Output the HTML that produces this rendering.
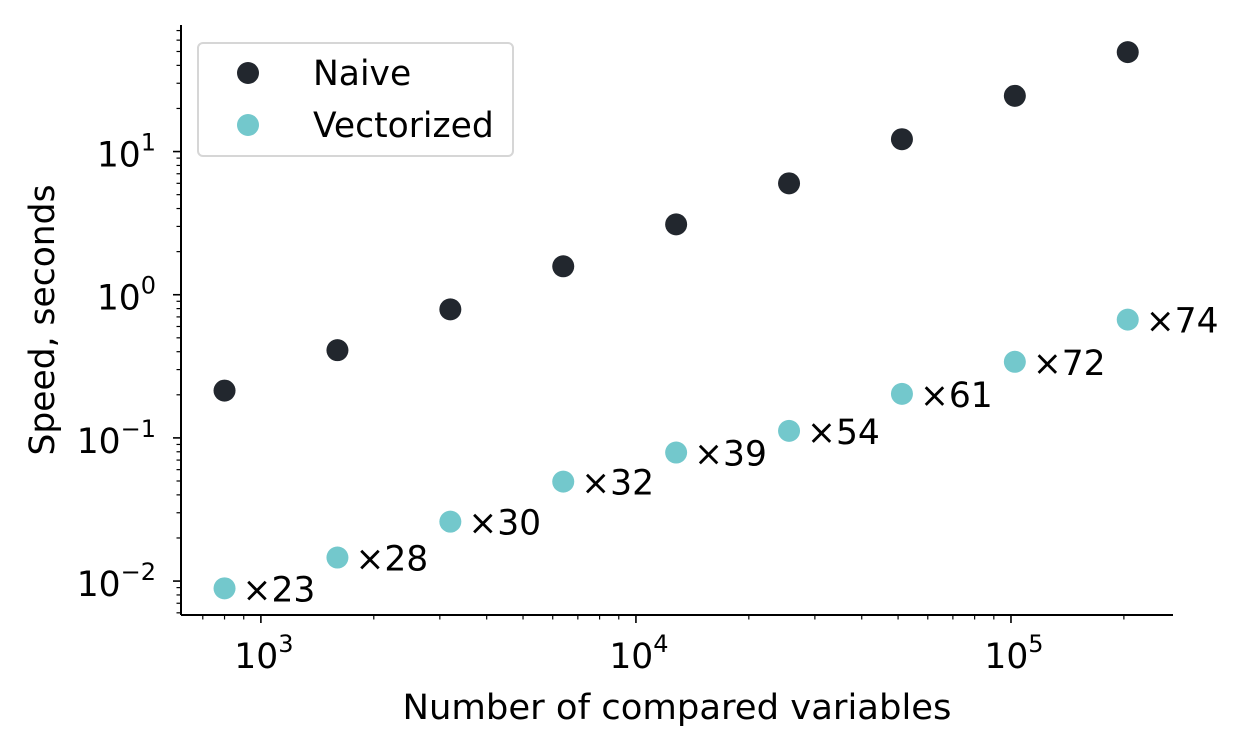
<!DOCTYPE html>
<html><head><meta charset="utf-8"><style>
html,body{margin:0;padding:0;background:#fff;}
svg{display:block;font-family:"DejaVu Sans","Liberation Sans",sans-serif;}
</style></head><body>
<svg id="chart" width="1243" height="751" viewBox="0 0 1243 751" xmlns="http://www.w3.org/2000/svg">
<g id="axes"></g>
<g id="marks"></g>
<text x="677" y="719" font-size="34.5" text-anchor="middle" textLength="549" lengthAdjust="spacingAndGlyphs">Number of compared variables</text>
<text transform="translate(54,320) rotate(-90)" font-size="34.5" text-anchor="middle">Speed, seconds</text>
<g>
<rect x="198" y="43" width="315" height="113" rx="5" fill="#fff" stroke="#d6d6d6" stroke-width="2"/>
<circle cx="248" cy="73" r="11" fill="#22272e"/>
<text x="313" y="85" font-size="34.5">Naive</text>
<circle cx="248" cy="125" r="11" fill="#73c8cc"/>
<text x="313" y="137" font-size="34.5">Vectorized</text>
</g>
</svg>
<script>
const sizes=[800,1600,3200,6400,12800,25600,51200,102400,204800];
const naive=[0.214,0.41,0.79,1.58,3.1,6.0,12.2,24.5,49.5];
const vectorized=[0.0089,0.0146,0.026,0.0495,0.079,0.112,0.203,0.34,0.67];
const speedups=["×23","×28","×30","×32","×39","×54","×61","×72","×74"];
const xTickExps=[3,4,5];
const yTickExps=[-2,-1,0,1];
const NS="http://www.w3.org/2000/svg";
const L=181,R=1173,T=25,B=615;
const xmin=2.787,xmax=5.432,ymin=-2.237,ymax=1.884;
function X(v){return L+(Math.log10(v)-xmin)/(xmax-xmin)*(R-L);}
function Y(v){return B-(Math.log10(v)-ymin)/(ymax-ymin)*(B-T);}
function mk(tag,attrs,parent){const e=document.createElementNS(NS,tag);for(const k in attrs)e.setAttribute(k,attrs[k]);parent.appendChild(e);return e;}
const axes=document.getElementById('axes'),marks=document.getElementById('marks');
let e=mk('line',{x1:L,y1:T,x2:L,y2:B,stroke:'#000','stroke-width':2},axes);


e=mk('line',{x1:L,y1:B,x2:R,y2:B,stroke:'#000','stroke-width':2},axes);


for(let d=2;d<=5;d++){for(let m=1;m<10;m++){const v=m*Math.pow(10,d);const lv=Math.log10(v);if(lv<xmin||lv>xmax)continue;const x=X(v);const len=m===1?8:4.5;
e=mk('line',{x1:x,y1:B,x2:x,y2:B+len,stroke:'#000','stroke-width':m===1?1.6:1.2},axes);

}}
for(let d=-3;d<=1;d++){for(let m=1;m<10;m++){const v=m*Math.pow(10,d);const lv=Math.log10(v);if(lv<ymin||lv>ymax)continue;const y=Y(v);const len=m===1?8:4.5;
e=mk('line',{x1:L-len,y1:y,x2:L,y2:y,stroke:'#000','stroke-width':m===1?1.6:1.2},axes);

}}
xTickExps.forEach(p=>{const t=mk('text',{x:X(Math.pow(10,p))+3,y:B+53,'font-size':34.5,'text-anchor':'middle'},axes);


t.innerHTML='10<tspan dy="-16" font-size="24">'+p+'</tspan>';});
yTickExps.forEach(p=>{const t=mk('text',{x:L-25,y:Y(Math.pow(10,p))+15,'font-size':34.5,'text-anchor':'end'},axes);


t.innerHTML='10<tspan dy="-16" font-size="24">'+(p<0?'−'+(-p):p)+'</tspan>';});
sizes.forEach((s,i)=>{
let c=mk('circle',{cx:X(s),cy:Y(naive[i]),r:11,fill:'#22272e'},marks);


c=mk('circle',{cx:X(s),cy:Y(vectorized[i]),r:11,fill:'#73c8cc'},marks);


const t=mk('text',{x:X(s)+18,y:Y(vectorized[i])+13,'font-size':34.5},marks);


t.textContent=speedups[i];});
</script>
</body></html>
